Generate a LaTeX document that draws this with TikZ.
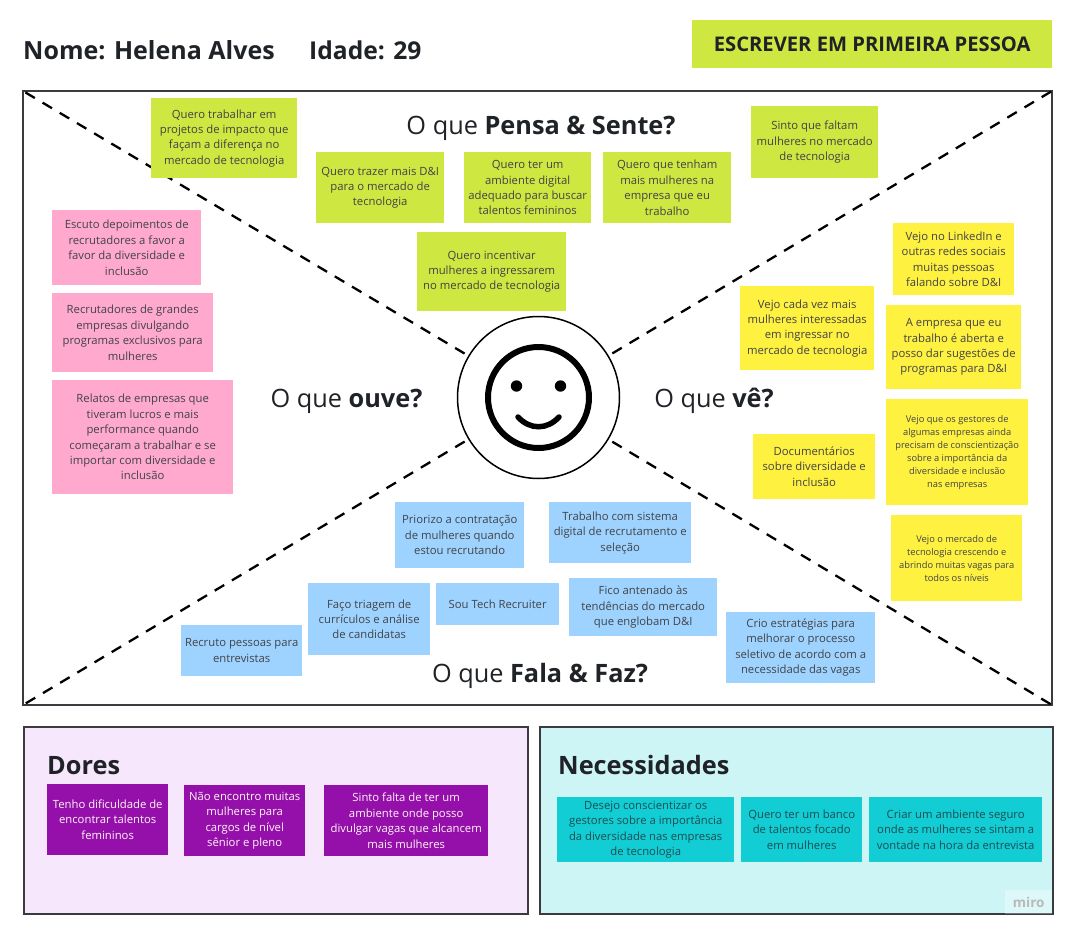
\documentclass[tikz,border=0pt]{standalone}
\usepackage{fontspec}
\setmainfont{Open Sans}
\definecolor{limenote}{HTML}{CEE741}
\definecolor{yellownote}{HTML}{FFF140}
\definecolor{pinknote}{HTML}{FEA9CD}
\definecolor{bluenote}{HTML}{9FD3FF}
\definecolor{purplenote}{HTML}{950FAB}
\definecolor{tealnote}{HTML}{12CDD4}
\definecolor{lilacpanel}{HTML}{F7E7FC}
\definecolor{aquapanel}{HTML}{CEF5F6}
\definecolor{ink}{HTML}{1F2226}
\definecolor{frameink}{HTML}{3A3A40}
\tikzset{
    note/.style={anchor=north west, inner sep=0pt, align=center, text=ink!85,
        font=\fontsize{11.3}{15.4}\selectfont},
    smallnote/.style={note, font=\fontsize{9.3}{13}\selectfont},
    heading/.style={text=ink, inner sep=0pt, font=\fontsize{25.3}{30}\selectfont},
    panel/.style={anchor=north west, draw=frameink, line width=1.5pt, inner sep=0pt, outer sep=0pt},
    paneltitle/.style={anchor=west, inner sep=0pt, text=ink, font=\fontsize{25.3}{30}\selectfont\bfseries},
    divider/.style={dash pattern=on 11pt off 9pt, line width=2.3pt, black}
}
\begin{document}
\begin{tikzpicture}[x=1pt, y=-1pt]
    \useasboundingbox (0,0) rectangle (1072,932);
    \fill[white] (0,0) rectangle (1072,932);

    \node[anchor=west, inner sep=0pt, text=ink, font=\fontsize{25}{30}\selectfont\bfseries] (name) at (23,50.5) {Nome: Helena Alves};
    \node[anchor=west, inner sep=0pt, text=ink, font=\fontsize{24.6}{30}\selectfont\bfseries] (age) at (309,50.5) {Idade: 29};
    \node[note, fill=limenote, minimum width=360pt, minimum height=48pt, text=ink, font=\fontsize{20.2}{24}\selectfont\bfseries] (banner) at (692,20) {ESCREVER EM PRIMEIRA PESSOA};

    \node[panel, minimum width=1029pt, minimum height=614pt] (board) at (23,91) {};
    \coordinate (cornerA) at (23,91);
    \coordinate (cornerB) at (1052,91);
    \coordinate (cornerC) at (23,705);
    \coordinate (cornerD) at (1052,705);

    \node[circle, draw=black, line width=1.5pt, minimum size=162pt, outer sep=5pt, inner sep=0pt] (face) at (538.5,397.5) {};
    \draw[divider] (face) -- (cornerA);
    \draw[divider] (face) -- (cornerB);
    \draw[divider] (face) -- (cornerC);
    \draw[divider] (face) -- (cornerD);

    \draw[line width=6pt] (face.center) circle (50.5pt);
    \fill (516.5,386) circle (5.7pt);
    \fill (560.5,386) circle (5.7pt);
    \draw[line width=5.5pt, line cap=round] (518,417) .. controls (530,430) and (547,430) .. (559,417);

    \node[heading] (thinks) at (541,128) {O que \textbf{Pensa \& Sente?}};
    \node[heading] (hears) at (346.5,401) {O que \textbf{ouve?}};
    \node[heading] (sees) at (714,401) {O que \textbf{vê?}};
    \node[heading] (says) at (540,676) {O que \textbf{Fala \& Faz?}};

    \node[note, fill=limenote, minimum width=146pt, minimum height=80pt] (thinkA) at (151,98) {Quero trabalhar em\\projetos de impacto que\\façam a diferença no\\mercado de tecnologia};
    \node[note, fill=limenote, minimum width=128pt, minimum height=71pt] (thinkB) at (316,152) {Quero trazer mais D\&I\\para o mercado de\\tecnologia};
    \node[note, fill=limenote, minimum width=127pt, minimum height=71pt] (thinkC) at (464,152) {Quero ter um\\ambiente digital\\adequado para buscar\\talentos femininos};
    \node[note, fill=limenote, minimum width=128pt, minimum height=71pt] (thinkD) at (603,152) {Quero que tenham\\mais mulheres na\\empresa que eu\\trabalho};
    \node[note, fill=limenote, minimum width=149pt, minimum height=79pt] (thinkE) at (417,232) {Quero incentivar\\mulheres a ingressarem\\no mercado de tecnologia};
    \node[note, fill=limenote, minimum width=127pt, minimum height=72pt] (thinkF) at (751,106) {Sinto que faltam\\mulheres no mercado\\de tecnologia};

    \node[note, fill=pinknote, minimum width=149pt, minimum height=75pt] (hearA) at (52,210) {Escuto depoimentos de\\recrutadores a favor a\\favor da diversidade e\\inclusão};
    \node[note, fill=pinknote, minimum width=161pt, minimum height=79pt] (hearB) at (52,293) {Recrutadores de grandes\\empresas divulgando\\programas exclusivos para\\mulheres};
    \node[note, fill=pinknote, minimum width=181pt, minimum height=114pt] (hearC) at (52,380) {Relatos de empresas que\\tiveram lucros e mais\\performance quando\\começaram a trabalhar e se\\importar com diversidade e\\inclusão};

    \node[note, fill=yellownote, minimum width=121pt, minimum height=72pt] (seeA) at (893,223) {Vejo no LinkedIn e\\outras redes sociais\\muitas pessoas\\falando sobre D\&I};
    \node[note, fill=yellownote, minimum width=135pt, minimum height=84pt] (seeB) at (886,305) {A empresa que eu\\trabalho é aberta e\\posso dar sugestões de\\programas para D\&I};
    \node[note, fill=yellownote, minimum width=134pt, minimum height=84pt] (seeC) at (740,286) {Vejo cada vez mais\\mulheres interessadas\\em ingressar no\\mercado de tecnologia};
    \node[note, fill=yellownote, minimum width=122pt, minimum height=65pt] (seeD) at (753,434) {Documentários\\sobre diversidade e\\inclusão};
    \node[smallnote, fill=yellownote, minimum width=142pt, minimum height=106pt] (seeE) at (886,399) {Vejo que os gestores de\\algumas empresas ainda\\precisam de conscientização\\sobre a importância da\\diversidade e inclusão\\nas empresas};
    \node[smallnote, fill=yellownote, minimum width=131pt, minimum height=86pt] (seeF) at (891,515) {Vejo o mercado de\\tecnologia crescendo e\\abrindo muitas vagas para\\todos os níveis};

    \node[note, fill=bluenote, minimum width=129pt, minimum height=66pt] (sayA) at (395,502) {Priorizo a contratação\\de mulheres quando\\estou recrutando};
    \node[note, fill=bluenote, minimum width=142pt, minimum height=61pt] (sayB) at (549,502) {Trabalho com sistema\\digital de recrutamento e\\seleção};
    \node[note, fill=bluenote, minimum width=122pt, minimum height=72pt] (sayC) at (308,583) {Faço triagem de\\currículos e análise\\de candidatas};
    \node[note, fill=bluenote, minimum width=123pt, minimum height=42pt] (sayD) at (436,583) {Sou Tech Recruiter};
    \node[note, fill=bluenote, minimum width=148pt, minimum height=58pt] (sayE) at (569,578) {Fico antenado às\\tendências do mercado\\que englobam D\&I};
    \node[note, fill=bluenote, minimum width=121pt, minimum height=51pt] (sayF) at (181,625) {Recruto pessoas para\\entrevistas};
    \node[note, fill=bluenote, minimum width=149pt, minimum height=71pt] (sayG) at (726,612) {Crio estratégias para\\melhorar o processo\\seletivo de acordo com a\\necessidade das vagas};

    \node[panel, fill=lilacpanel, minimum width=504pt, minimum height=187pt] (pains) at (24,727) {};
    \node[panel, fill=aquapanel, minimum width=513pt, minimum height=187pt] (needs) at (540,727) {};
    \node[paneltitle] (painstitle) at (47,766) {Dores};
    \node[paneltitle] (needstitle) at (558,765.5) {Necessidades};

    \node[note, fill=purplenote, text=white!88!pink, minimum width=121pt, minimum height=71pt] (painA) at (47,784) {Tenho dificuldade de\\encontrar talentos\\femininos};
    \node[note, fill=purplenote, text=white!88!pink, minimum width=121pt, minimum height=71pt] (painB) at (184,785) {Não encontro muitas\\mulheres para\\cargos de nível\\sênior e pleno};
    \node[note, fill=purplenote, text=white!88!pink, minimum width=164pt, minimum height=71pt] (painC) at (324,785) {Sinto falta de ter um\\ambiente onde posso\\divulgar vagas que alcancem\\mais mulheres};

    \node[note, fill=tealnote, text=ink!75!tealnote, minimum width=177pt, minimum height=65pt] (needA) at (557,797) {Desejo conscientizar os\\gestores sobre a importância\\da diversidade nas empresas\\de tecnologia};
    \node[note, fill=tealnote, text=ink!75!tealnote, minimum width=121pt, minimum height=65pt] (needB) at (741,797) {Quero ter um banco\\de talentos focado\\em mulheres};
    \node[note, fill=tealnote, text=ink!75!tealnote, minimum width=173pt, minimum height=65pt] (needC) at (869,797) {Criar um ambiente seguro\\onde as mulheres se sintam a\\vontade na hora da entrevista};

    \node[anchor=north west, inner sep=0pt, fill=white, fill opacity=.3, text opacity=1, text=gray!55, minimum width=47pt, minimum height=24pt, font=\fontsize{13.5}{15}\selectfont\bfseries] (miro) at (1005,890) {miro};
\end{tikzpicture}
\end{document}
